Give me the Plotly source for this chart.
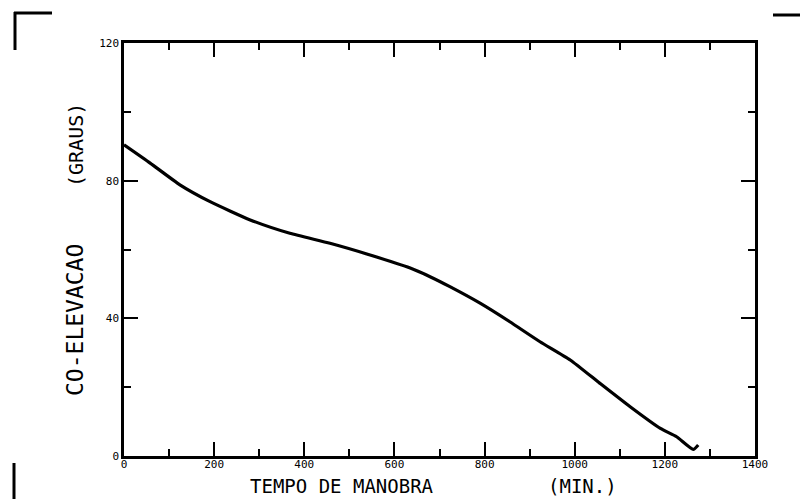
import plotly.graph_objects as go

# Manoeuvre time (min) and co-elevation (degrees)
tempo = [0, 58, 124, 191, 280, 368, 457, 546, 635, 679, 723, 790, 856, 923, 990, 1056, 1123, 1190, 1226, 1263, 1274]
coelev = [90.4, 85.1, 78.8, 73.9, 68.6, 64.7, 61.8, 58.4, 54.6, 52.1, 49.2, 44.4, 39.0, 33.2, 27.9, 21.1, 14.3, 8.0, 5.6, 1.9, 3.2]

x_ticks = [0, 200, 400, 600, 800, 1000, 1200, 1400]
y_ticks = [0, 40, 80, 120]

tick_font = dict(family="DejaVu Sans Mono", size=11, color="black")
title_font = dict(family="DejaVu Sans Mono", size=18, color="black")

W, H = 800, 499
ML, MR, MT, MB = 124, 45, 43, 43
PW, PH = W - ML - MR, H - MT - MB


def px(x):
    """Page pixel column -> paper x (plot-area relative)."""
    return (x - ML) / PW


def py(y):
    """Page pixel row -> paper y (plot-area relative)."""
    return (H - MB - y) / PH


fig = go.Figure()
fig.add_trace(go.Scatter(
    x=tempo, y=coelev, mode="lines",
    line=dict(color="black", width=3.2, shape="spline", smoothing=0.5),
    showlegend=False, hoverinfo="skip",
))

axis_common = dict(
    showgrid=False, zeroline=False,
    showline=True, linecolor="black", linewidth=2.5, mirror="ticks",
    ticks="inside", ticklen=14, tickwidth=2, tickcolor="black",
    tickfont=tick_font,
)

fig.update_xaxes(
    range=[0, 1400], tickvals=x_ticks, ticktext=[str(v) for v in x_ticks],
    ticklabelstandoff=-4,
    minor=dict(ticks="inside", ticklen=7, tickwidth=2, tickcolor="black", dtick=100, tick0=0, showgrid=False),
    **axis_common,
)
fig.update_yaxes(
    range=[0, 120], tickvals=y_ticks, ticktext=[str(v) for v in y_ticks],
    minor=dict(ticks="inside", ticklen=7, tickwidth=2, tickcolor="black", dtick=20, tick0=0, showgrid=False),
    **axis_common,
)

# Axis titles
def label(text, x, y, angle=0, font=title_font):
    fig.add_annotation(text=text, x=px(x), y=py(y), xref="paper", yref="paper",
                       xanchor="center", yanchor="middle", textangle=angle,
                       showarrow=False, font=font)

label("TEMPO DE MANOBRA", 342, 486, font=dict(family="DejaVu Sans Mono", size=19, color="black"))
label("(MIN.)", 582, 486, font=dict(family="DejaVu Sans Mono", size=19, color="black"))
label("CO-ELEVACAO", 75, 320, -90, dict(family="DejaVu Sans Mono", size=23, color="black"))
label("(GRAUS)", 76, 145, -90, dict(family="DejaVu Sans Mono", size=20, color="black"))

# Sheet corner marks
def seg(x0, y0, x1, y1):
    fig.add_shape(type="line", xref="paper", yref="paper",
                  x0=px(x0), y0=py(y0), x1=px(x1), y1=py(y1),
                  line=dict(color="black", width=3))

seg(14, 13, 52, 13)
seg(15, 12, 15, 50)
seg(773, 15, 800, 15)
seg(14, 463, 14, 499)

fig.update_layout(
    width=W, height=H,
    margin=dict(l=ML, r=MR, t=MT, b=MB),
    paper_bgcolor="white", plot_bgcolor="white",
)

fig.write_html("out.html")
